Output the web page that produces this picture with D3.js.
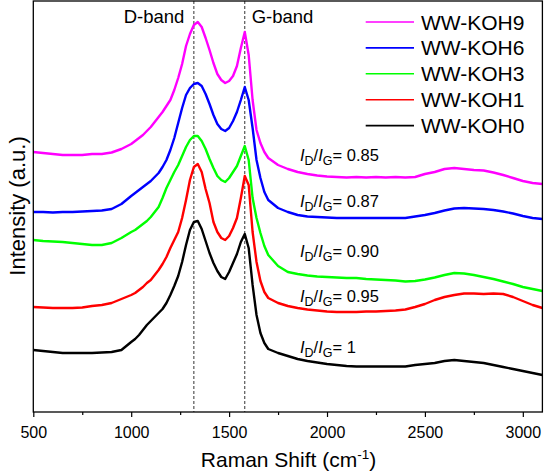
<!DOCTYPE html>
<html>
<head>
<meta charset="utf-8">
<script src="https://cdn.jsdelivr.net/npm/d3@7"></script>
<style>
  html, body { margin: 0; padding: 0; background: #fff; }
  svg { display: block; }
  text { font-family: Arial, "Liberation Sans", Helvetica, sans-serif; fill: #000; }
</style>
</head>
<body>
<svg id="chart" width="544" height="473"></svg>
<script>
// Raman shift (cm-1)
const wavenumber = [500,550,600,650,700,750,800,850,900,950,1000,
  1020,1040,1060,1080,1100,1120,1140,1160,1180,1200,1220,1240,1260,1280,1300,1320,1340,1360,1380,1400,
  1420,1440,1460,1480,1500,1520,1540,1560,1580,1600,1620,1640,1660,1680,1700,
  1750,1800,1850,1900,1950,2000,2050,2100,2150,2200,2250,2300,2350,2400,2450,2500,2550,2600,2650,2700,
  2750,2800,2850,2900,2950,3000,3050,3100];

// Stacked intensities (a.u.)
const wwKOH9 = [260,259,258,257,257,257,258,258,259.5,263,268,
  271,274,277,281,285,290,295,300,306,312,322,334,348,366,378,387,390,385,374,362,
  349,338,332,329,331,336,346,364,380,357,312,282,269,260,254,
  247,243,240,238,236.5,235.5,235,234.5,235,234.5,235,234.5,235,234.5,235,238,240,243,244,243,
  242,241.5,239.5,237,234,231,229,228];
const wwKOH6 = [200,200,199.5,200,200,200.5,201,201.5,203,208,216,
  219,222,225,228,231,235,239,245,252,262,274,289,304,317,324,328,329,326,318,308,
  297,288,283,281,284,291,300,312,325,312,284,252,234,220,212,
  204,200,197,195.5,195,194.5,194,194,194,194,194,194,194,194,195.5,197,199,201.5,203.5,204,
  203.5,203,202,200.5,198.5,196,194,193];
const wwKOH3 = [172,171,170.5,170,169,168,167,167,169,174,180,
  182,185,188,191,195,200,205,214,224,232,240,247,256,265,272,276,276,271,263,253,
  244,236,232,230,234,240,246,256,266,252,214,194,179,166,157,
  146,140,138,136.5,135.5,135,134.5,134,134,133,132.5,132,131.5,130.5,131,132.5,134.5,137,139,138.5,
  137,135,133,130.5,128,125,123,121];
const wwKOH1 = [105,104.5,104,104,104,104.5,106,107,109,113,117,
  119,122,125,129,132,137,142,148,155,164,172,180,194,212,232,245,248,240,223,209,
  190,180,174,172,176,184,194,214,236,227,180,150,131,120,114,
  109,106,104,102.5,101.5,100.5,100,100,100,100.5,100.5,101,101.5,102.5,105,108,112,115,117,118.5,
  118.5,118,118.5,118,115,111,107,104];
const wwKOH0 = [62,61,60,59,59,59,59,59.5,60,62,70,
  73,77,82,87,91,95,99,103,109,117,126,136,150,167,182,190,191,183,171,159,
  149,141,135,133,140,149,158,170,178,164,127,97,79,69,63,
  59,56,53,51,49.5,48,47,46,45.5,45.5,45.5,45.5,45.5,45.5,47,48,49,51,52,51,
  50,49,47,45,43,41,39,37];

const seriesNames = ["WW-KOH9","WW-KOH6","WW-KOH3","WW-KOH1","WW-KOH0"];
const seriesColors = ["#ff00ff","#0000ff","#00ff00","#ff0000","#000000"];
const seriesValues = [wwKOH9, wwKOH6, wwKOH3, wwKOH1, wwKOH0];
const ratioLabels = ["0.85","0.87","0.90","0.95","1"];
const ratioAnchors = [[1862,251],[1862,205],[1862,155],[1862,110],[1862,59]]; // [wavenumber, intensity] of label baseline start
const bandPositions = [1320, 1580];
const bandLabels = ["D-band","G-band"];
const majorTicks = [500,1000,1500,2000,2500,3000];
const minorTicks = [750,1250,1750,2250,2750];

const svg = d3.select("#chart");
const L = 33.3, R = 542.4, T = 1, B = 412;
const x = d3.scaleLinear().domain([500, 3100]).range([L, R]);
const y = d3.scaleLinear().domain([0, 411]).range([B, T]);

svg.append("defs").append("clipPath").attr("id","clip")
  .append("rect").attr("x", L).attr("y", T).attr("width", R - L).attr("height", B - T);

// dashed band lines
svg.append("g").selectAll("line").data(bandPositions).join("line")
  .attr("x1", d => x(d)).attr("x2", d => x(d))
  .attr("y1", T).attr("y2", B)
  .attr("stroke", "#333").attr("stroke-width", 1).attr("stroke-dasharray", "3,2");

// curves
const line = d3.line().x((d, i) => x(wavenumber[i])).y(d => y(d));
const curves = svg.append("g").attr("clip-path", "url(#clip)");
seriesValues.forEach((vals, k) => {
  curves.append("path").datum(vals)
    .attr("d", line)
    .attr("fill", "none")
    .attr("stroke", seriesColors[k])
    .attr("stroke-width", 2.4)
    .attr("stroke-linejoin", "round");
});

// frame
svg.append("rect").attr("x", L).attr("y", T).attr("width", R - L).attr("height", B - T)
  .attr("fill", "none").attr("stroke", "#000").attr("stroke-width", 1.3);

// x axis
const ax = svg.append("g").attr("transform", `translate(0,${B})`)
  .call(d3.axisBottom(x).tickValues(majorTicks).tickSize(5).tickSizeOuter(0).tickPadding(9.6).tickFormat(d3.format("d")));
ax.select(".domain").remove();
ax.selectAll(".tick line").attr("stroke-width", 1.2);
ax.selectAll("text").style("font-size", "16px").style("font-family", 'Arial, "Liberation Sans", sans-serif');
const axm = svg.append("g").attr("transform", `translate(0,${B})`)
  .call(d3.axisBottom(x).tickValues(minorTicks).tickSize(3).tickFormat(""));
axm.select(".domain").remove();
axm.selectAll(".tick line").attr("stroke-width", 1.2);

// axis titles
const xt = svg.append("text").attr("x", 288.5).attr("y", 467).attr("text-anchor", "middle").style("font-size", "21px");
xt.append("tspan").text("Raman Shift (cm");
xt.append("tspan").attr("dy", -8).style("font-size", "13.5px").text("-1");
xt.append("tspan").attr("dy", 8).text(")");

svg.append("text").attr("transform", "translate(25,206) rotate(-90)")
  .attr("text-anchor", "middle").style("font-size", "22px").text("Intensity (a.u.)");

// band labels
svg.append("text").attr("x", 154).attr("y", 22.7).attr("text-anchor", "middle").style("font-size", "18.5px").text(bandLabels[0]);
svg.append("text").attr("x", 251.7).attr("y", 22.7).attr("text-anchor", "start").style("font-size", "18.5px").text(bandLabels[1]);

// legend
const lg = svg.append("g");
seriesNames.forEach((n, i) => {
  const cy = 22 + i * 25.9;
  lg.append("line").attr("x1", 365.7).attr("x2", 414).attr("y1", cy).attr("y2", cy)
    .attr("stroke", seriesColors[i]).attr("stroke-width", 1.6);
  lg.append("text").attr("x", 421).attr("y", cy + 7.5).style("font-size", "21px").text(n);
});

// ID/IG annotations
ratioLabels.forEach((r, i) => {
  const t = svg.append("text").attr("x", x(ratioAnchors[i][0])).attr("y", y(ratioAnchors[i][1])).style("font-size", "16.5px");
  t.append("tspan").style("font-style", "italic").text("I");
  t.append("tspan").attr("dy", 4).style("font-size", "12.5px").text("D");
  t.append("tspan").attr("dy", -4).text("/");
  t.append("tspan").style("font-style", "italic").text("I");
  t.append("tspan").attr("dy", 4).style("font-size", "12.5px").text("G");
  t.append("tspan").attr("dy", -4).text("= " + r);
});
</script>
</body>
</html>
